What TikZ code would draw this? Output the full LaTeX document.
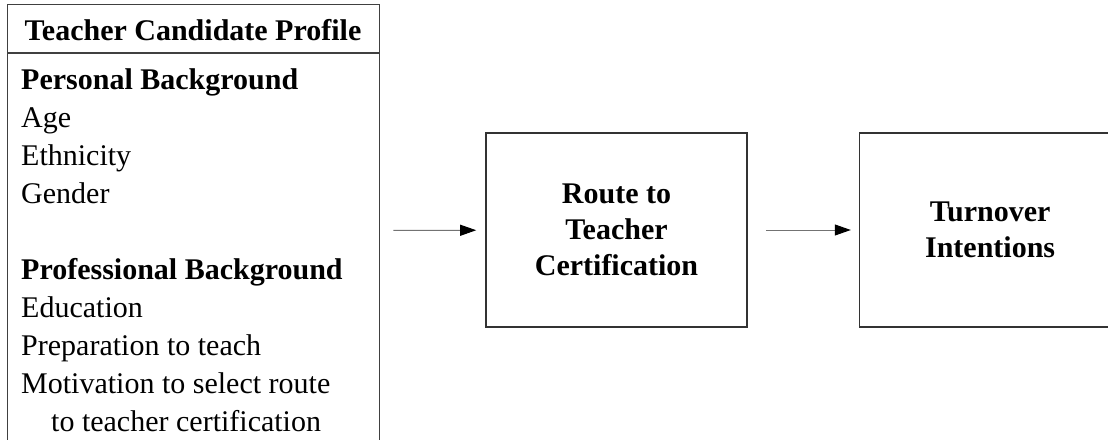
\documentclass[tikz,border=0pt]{standalone}
\usepackage{fontspec}
\setmainfont{Liberation Serif}
\usetikzlibrary{arrows.meta,positioning}

\begin{document}
\begin{tikzpicture}[x=1pt,y=-1pt]
\tikzstyle{box}=[draw=black!80,line width=1.6pt,align=center,inner sep=0pt,minimum width=261pt,minimum height=194pt,font=\bfseries\fontsize{30}{36}\selectfont]
\tikzstyle{conn}=[draw=black!55,line width=1pt,-{Triangle[length=16pt,width=11pt,color=black]}]
\useasboundingbox (0,0) rectangle (1108,439);
\clip (0,0) rectangle (1108,439);

% profile box, its bottom runs off the page
\node[draw=black!75,line width=1.4pt,inner sep=0pt,minimum width=372pt,minimum height=452pt,anchor=north west] (profile) at (7,4) {};
\node[font=\bfseries\fontsize{30}{36}\selectfont,anchor=base] (head) at (193,40) {Teacher Candidate Profile};
\draw[black!75,line width=1.4pt] (profile.west |- 0,53) -- (profile.east |- 0,53);
\node[anchor=north west,align=left,inner sep=0pt,font=\fontsize{30}{38}\selectfont] (items) at (21,68)
  {\textbf{Personal Background}\\Age\\Ethnicity\\Gender\\[38pt]
   \textbf{Professional Background}\\Education\\Preparation to teach\\Motivation to select route\\
   \hspace*{1em}to teacher certification};

\node[box] (route) at (616.5,230) {Route to\\Teacher\\Certification};
\node[box,right=111pt of route] (turnover) {Turnover\\Intentions};

\draw[conn,shorten <=13pt,shorten >=9pt] (profile) -- (route);
\draw[conn,shorten <=18pt,shorten >=8pt] (route) -- (turnover);
\end{tikzpicture}
\end{document}
